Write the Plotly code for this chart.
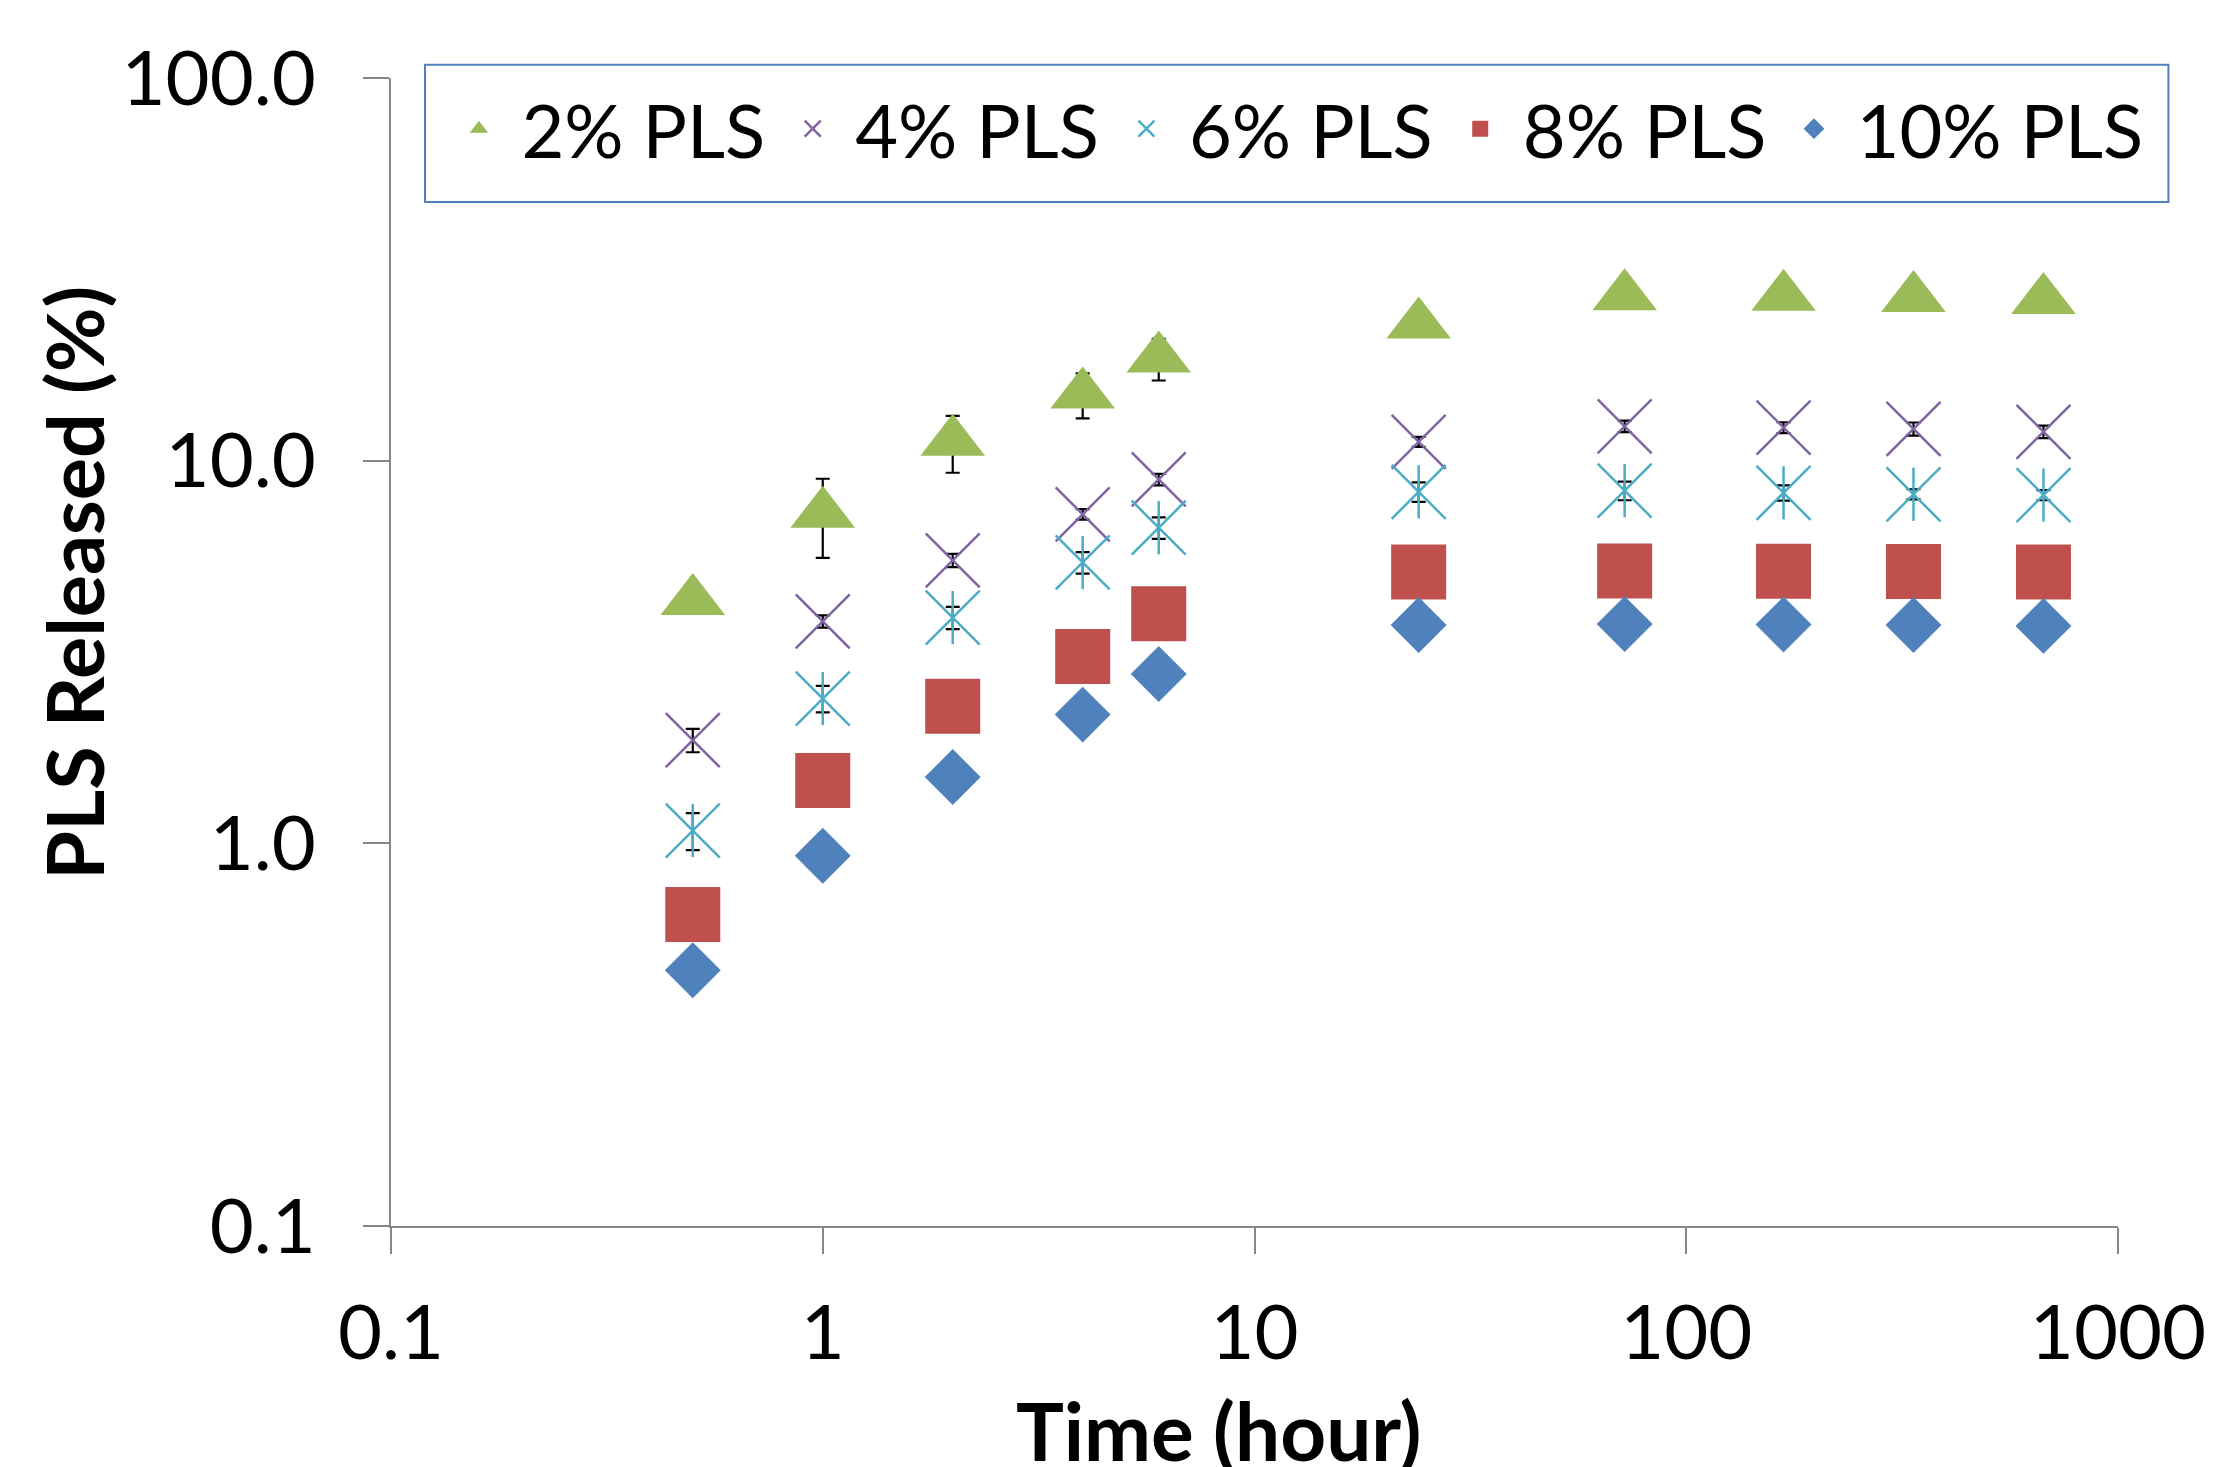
import plotly.graph_objects as go

# ---- data ----
time_h = [0.5, 1, 2, 4, 6, 24, 72, 168, 336, 672]

pls2 = [4.30, 7.27, 11.2, 14.9, 18.5, 22.7, 26.9, 26.8, 26.6, 26.3]
pls2_err = [0.25, 1.7, 1.9, 2.0, 2.3, 1.0, 1.0, 1.0, 1.0, 1.0]

pls4 = [1.86, 3.80, 5.49, 7.24, 8.93, 11.2, 12.3, 12.2, 12.1, 11.9]
pls4_err = [0.13, 0.14, 0.22, 0.23, 0.31, 0.34, 0.43, 0.40, 0.48, 0.45]

pls6 = [1.08, 2.39, 3.89, 5.42, 6.68, 8.29, 8.35, 8.24, 8.17, 8.13]
pls6_err = [0.12, 0.19, 0.26, 0.35, 0.43, 0.49, 0.47, 0.38, 0.25, 0.25]

pls8 = [0.652, 1.46, 2.28, 3.08, 3.98, 5.12, 5.15, 5.14, 5.13, 5.12]
pls10 = [0.466, 0.928, 1.49, 2.17, 2.77, 3.72, 3.74, 3.73, 3.72, 3.70]

series_names = ["2% PLS", "4% PLS", "6% PLS", "8% PLS", "10% PLS"]

x_tickvals = [0.1, 1, 10, 100, 1000]
x_ticktext = ["0.1", "1", "10", "100", "1000"]
y_tickvals = [0.1, 1, 10, 100]
y_ticktext = ["0.1", "1.0", "10.0", "100.0"]

x_title = "Time (hour)"
y_title = "PLS Released (%)"

# ---- style ----
GREEN = "#9BBB59"
PURPLE = "#8064A2"
CYAN = "#4BACC6"
RED = "#C0504D"
BLUE = "#4F81BD"
AXIS = "#868686"
FONT = "Lato"
FS = 76

err_style = dict(type="data", color="black", thickness=2.2, width=7)

fig = go.Figure()

fig.add_trace(go.Scatter(
    x=time_h, y=pls2, mode="markers", name=series_names[0],
    marker=dict(symbol="triangle-up", size=56, color=GREEN),
    error_y=dict(array=pls2_err, **err_style)))

fig.add_trace(go.Scatter(
    x=time_h, y=pls4, mode="markers", name=series_names[1],
    marker=dict(symbol="x-thin", size=54, color=PURPLE,
                line=dict(color=PURPLE, width=2.5)),
    error_y=dict(array=pls4_err, **err_style)))

fig.add_trace(go.Scatter(
    x=time_h, y=pls6, mode="markers", name=series_names[2],
    legendgroup="six",
    marker=dict(symbol="x-thin", size=54, color=CYAN,
                line=dict(color=CYAN, width=2.5)),
    error_y=dict(array=pls6_err, **err_style)))
fig.add_trace(go.Scatter(
    x=time_h, y=pls6, mode="markers", name=series_names[2],
    legendgroup="six", showlegend=False, hoverinfo="skip",
    marker=dict(symbol="line-ns", size=38, color=CYAN,
                line=dict(color=CYAN, width=2.5))))

fig.add_trace(go.Scatter(
    x=time_h, y=pls8, mode="markers", name=series_names[3],
    marker=dict(symbol="square", size=55, color=RED)))

fig.add_trace(go.Scatter(
    x=time_h, y=pls10, mode="markers", name=series_names[4],
    marker=dict(symbol="diamond", size=43, color=BLUE)))

fig.update_layout(
    width=2215, height=1467,
    margin=dict(l=383, r=105, t=70, b=249, autoexpand=False),
    paper_bgcolor="white", plot_bgcolor="white",
    font=dict(family=FONT, size=FS, color="black"),
    showlegend=True,
    legend=dict(
        orientation="h", x=0.0263, y=1.0034, xanchor="left", yanchor="top",
        bgcolor="rgba(0,0,0,0)", borderwidth=0,
        font=dict(family=FONT, size=74, color="black"),
        itemwidth=75, tracegroupgap=0,
    ),
    shapes=[
        dict(type="rect", xref="paper", yref="paper",
             x0=0.0197, x1=1.0292, y0=0.8920, y1=1.0116,
             line=dict(color=BLUE, width=2), fillcolor="white", layer="above"),
    ],
    xaxis=dict(
        type="log", range=[-1, 3],
        tickvals=x_tickvals, ticktext=x_ticktext,
        showgrid=False, zeroline=False,
        showline=True, linecolor=AXIS, linewidth=2,
        ticks="outside", ticklen=26, tickwidth=2, tickcolor=AXIS,
        ticklabelstandoff=14,
        tickfont=dict(family=FONT, size=FS),
    ),
    yaxis=dict(
        type="log", range=[-1, 2],
        tickvals=y_tickvals, ticktext=y_ticktext,
        showgrid=False, zeroline=False,
        showline=True, linecolor=AXIS, linewidth=2,
        ticks="outside", ticklen=26, tickwidth=2, tickcolor=AXIS,
        ticklabelstandoff=32,
        tickfont=dict(family=FONT, size=FS),
    ),
    annotations=[
        dict(text="<b>" + x_title + "</b>", xref="paper", yref="paper",
             x=0.479, y=-0.178, xanchor="center", yanchor="middle",
             showarrow=False, font=dict(family=FONT, size=80)),
        dict(text="<b>" + y_title + "</b>", xref="paper", yref="paper",
             x=-0.184, y=0.5606, xanchor="center", yanchor="middle",
             textangle=-90, showarrow=False, font=dict(family=FONT, size=79)),
    ],
)

fig.write_html("out.html")
